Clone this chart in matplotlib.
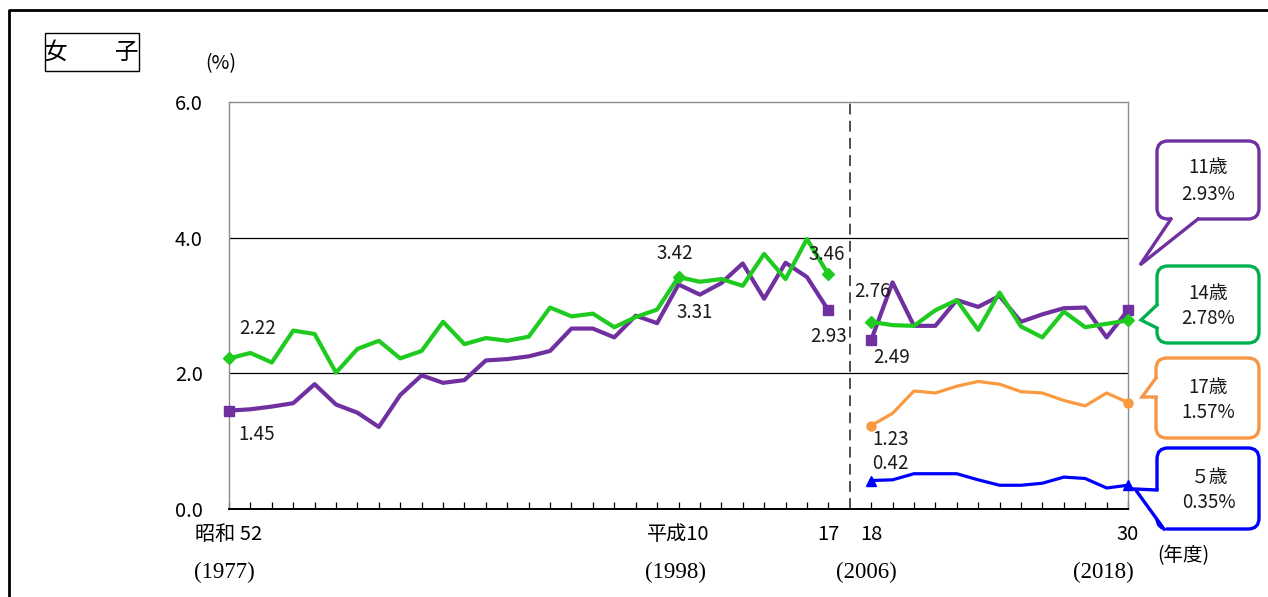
import numpy as np
import matplotlib
matplotlib.use("Agg")
import matplotlib.pyplot as plt
from matplotlib.patches import FancyBboxPatch, Polygon, Rectangle
from matplotlib.lines import Line2D
from matplotlib.transforms import Affine2D

plt.rcParams['font.family'] = ['Noto Sans CJK JP', 'DejaVu Sans']

# ---- data: prevalence (%) by age, girls ----
years_early = np.arange(1977, 2006)   # 昭和52 - 平成17
years_late = np.arange(2006, 2019)    # 平成18 - 平成30

age11_early = [1.45, 1.47, 1.51, 1.56, 1.84, 1.54, 1.42, 1.21, 1.68, 1.97,
               1.86, 1.90, 2.19, 2.21, 2.25, 2.33, 2.66, 2.66, 2.53, 2.85,
               2.74, 3.31, 3.16, 3.33, 3.62, 3.10, 3.63, 3.42, 2.93]
age14_early = [2.22, 2.30, 2.16, 2.63, 2.58, 2.01, 2.36, 2.48, 2.22, 2.33,
               2.76, 2.43, 2.52, 2.48, 2.54, 2.97, 2.84, 2.88, 2.68, 2.83,
               2.94, 3.42, 3.35, 3.39, 3.29, 3.76, 3.39, 3.98, 3.46]

age11_late = [2.49, 3.34, 2.70, 2.70, 3.08, 2.98, 3.14, 2.76, 2.87, 2.96, 2.97, 2.53, 2.93]
age14_late = [2.76, 2.71, 2.70, 2.93, 3.08, 2.64, 3.19, 2.69, 2.53, 2.91, 2.68, 2.73, 2.78]
age17_late = [1.23, 1.41, 1.74, 1.71, 1.81, 1.88, 1.84, 1.73, 1.71, 1.60, 1.52, 1.71, 1.57]
age5_late = [0.42, 0.43, 0.52, 0.52, 0.52, 0.43, 0.35, 0.35, 0.38, 0.47, 0.45, 0.31, 0.35]

yticks = [0.0, 2.0, 4.0, 6.0]
era_labels = [(1977, '昭和 52'), (1998, '平成10'), (2005, '17'), (2006, '18'), (2018, '30')]
year_labels = [(1977, '(1977)', -5), (1998, '(1998)', -3), (2006, '(2006)', -5), (2018, '(2018)', -25)]

C11, C14, C17, C5 = '#7030A0', '#1FCB1F', '#F99A3E', '#0000FF'
E11, E14, E17, E5 = '#7030A0', '#00B050', '#F79646', '#0000FF'


def pos(year):
    """Axis position; one empty slot separates the two survey periods."""
    year = np.asarray(year)
    return year - 1977 + (year >= 2006)


W, H = 1268, 597
fig = plt.figure(figsize=(W / 100, H / 100), dpi=100)
px = Affine2D().scale(1 / W, -1 / H).translate(0, 1) + fig.transFigure

ax = fig.add_axes([229 / W, 1 - 509 / H, (1128 - 229) / W, (509 - 102) / H])
ax.set_xlim(0, pos(2018))
ax.set_ylim(0, 6)

# frame and guides
for s in ('left', 'top', 'right'):
    ax.spines[s].set_color('#8c8c8c')
    ax.spines[s].set_linewidth(1.0)
ax.spines['bottom'].set_color('black')
ax.spines['bottom'].set_linewidth(1.4)
for g in (2.0, 4.0):
    ax.axhline(g, color='black', lw=0.9, zorder=1)
split = pos(2006) - 0.5 * (pos(2006) - pos(2005))
ax.axvline(split, color='#404040', lw=1.3, ls=(0, (6, 3.5)), zorder=1)

xt = [p for p in range(0, int(pos(2018)) + 1) if p != split]
ax.set_xticks(xt)
ax.set_xticklabels([])
ax.tick_params(axis='x', direction='in', length=5, width=0.9, color='black')
ax.set_yticks(yticks)
ax.set_yticklabels([f'{v:.1f}' for v in yticks], fontsize=14.5)
ax.tick_params(axis='y', length=0, pad=19)

# series
lw_thick, lw_thin = 3.0, 2.3
ax.plot(pos(years_early), age11_early, color=C11, lw=lw_thick, zorder=3,
        marker='s', ms=7, markevery=[0, len(years_early) - 1], clip_on=False)
ax.plot(pos(years_early), age14_early, color=C14, lw=lw_thick, zorder=4,
        marker='D', ms=6.5, markevery=[0, 21, len(years_early) - 1], clip_on=False)
ax.plot(pos(years_late), age11_late, color=C11, lw=lw_thick, zorder=3,
        marker='s', ms=7, markevery=[0, len(years_late) - 1], clip_on=False)
ax.plot(pos(years_late), age14_late, color=C14, lw=lw_thick, zorder=4,
        marker='D', ms=6.5, markevery=[0, len(years_late) - 1], clip_on=False)
ax.plot(pos(years_late), age17_late, color=C17, lw=lw_thin, zorder=3,
        marker='o', ms=6.5, markevery=[0, len(years_late) - 1], clip_on=False)
ax.plot(pos(years_late), age5_late, color=C5, lw=lw_thin, zorder=3,
        marker='^', ms=7.5, markevery=[0, len(years_late) - 1], clip_on=False)

# value labels
label_specs = [
    (age14_early, years_early, 1977, (29, 30)),
    (age11_early, years_early, 1977, (28, -24)),
    (age14_early, years_early, 1998, (-4, 24)),
    (age11_early, years_early, 1998, (16, -28)),
    (age14_early, years_early, 2005, (-2, 20)),
    (age11_early, years_early, 2005, (0, -26)),
    (age14_late, years_late, 2006, (1, 30)),
    (age11_late, years_late, 2006, (20, -17)),
    (age17_late, years_late, 2006, (19, -14)),
    (age5_late, years_late, 2006, (19, 17)),
]
for vals, yrs, yr, off in label_specs:
    v = vals[list(yrs).index(yr)]
    ax.annotate(f'{v:.2f}', xy=(pos(yr), v), xytext=off, textcoords='offset pixels',
                ha='center', va='center', fontsize=13.5, color='#1a1a1a', zorder=6)

# x-axis labels
xform = ax.get_xaxis_transform()
for yr, txt in era_labels:
    ax.annotate(txt, xy=(pos(yr), 0), xycoords=xform, xytext=(0, -26),
                textcoords='offset pixels', ha='center', va='center',
                fontsize=14.5, annotation_clip=False)
for yr, txt, dx in year_labels:
    ax.annotate(txt, xy=(pos(yr), 0), xycoords=xform, xytext=(dx, -63),
                textcoords='offset pixels', ha='center', va='center',
                fontsize=16.5, family='Liberation Serif', annotation_clip=False)

fig.text(1183, 556, '(年度)', transform=px, ha='center', va='center', fontsize=14)
fig.text(221, 64, '(%)', transform=px, ha='center', va='center', fontsize=14)

# panel title
fig.add_artist(Rectangle((45, 33), 94, 38, transform=px, fill=False, ec='black', lw=1.0))
fig.text(91, 52, '女　　子', transform=px, ha='center', va='center', fontsize=17)

# outer border
fig.add_artist(Line2D([9, 9, W], [H, 10, 10], transform=px, color='black', lw=2.0))


def bubble(box, color, tail, cover, lines, centers):
    x0, y0, x1, y1 = box
    fig.add_artist(FancyBboxPatch((x0, y0), x1 - x0, y1 - y0,
                                  boxstyle='round,pad=0,rounding_size=11', transform=px,
                                  fc='white', ec=color, lw=2.4, zorder=5))
    fig.add_artist(Polygon(cover, closed=True, transform=px, fc='white', ec='none', zorder=6))
    fig.add_artist(Line2D([p[0] for p in tail], [p[1] for p in tail], transform=px,
                          color=color, lw=2.4, zorder=7, solid_joinstyle='miter'))
    for (cx, cy), t in zip(centers, lines):
        fig.text(cx, cy, t, transform=px, ha='center', va='center', fontsize=13.5,
                 color='#1a1a1a', zorder=8)


bubble((1157, 141, 1259, 219), E11,
       [(1171, 219), (1140, 265), (1198, 219)],
       [(1172, 219), (1140, 265), (1197, 219), (1197, 214), (1172, 214)],
       ['11歳', f'{age11_late[-1]:.2f}%'], [(1208, 168), (1208, 194)])
bubble((1157, 266, 1259, 343), E14,
       [(1157, 305), (1141, 320), (1157, 328)],
       [(1157, 306), (1141, 320), (1157, 327), (1162, 327), (1162, 306)],
       ['14歳', f'{age14_late[-1]:.2f}%'], [(1208, 293), (1208, 319)])
bubble((1156, 358, 1259, 438), E17,
       [(1156, 378), (1142, 397), (1156, 397)],
       [(1156, 379), (1142, 397), (1156, 396), (1161, 396), (1161, 379)],
       ['17歳', f'{age17_late[-1]:.2f}%'], [(1208, 387), (1208, 413)])
bubble((1157, 448, 1259, 529), E5,
       [(1157, 490), (1135, 489), (1164, 529)],
       [(1160, 490), (1135, 489), (1164, 531), (1167, 526), (1161, 490)],
       ['５歳', f'{age5_late[-1]:.2f}%'], [(1210, 477), (1209, 503)])

fig.savefig('out.png', dpi=100)
